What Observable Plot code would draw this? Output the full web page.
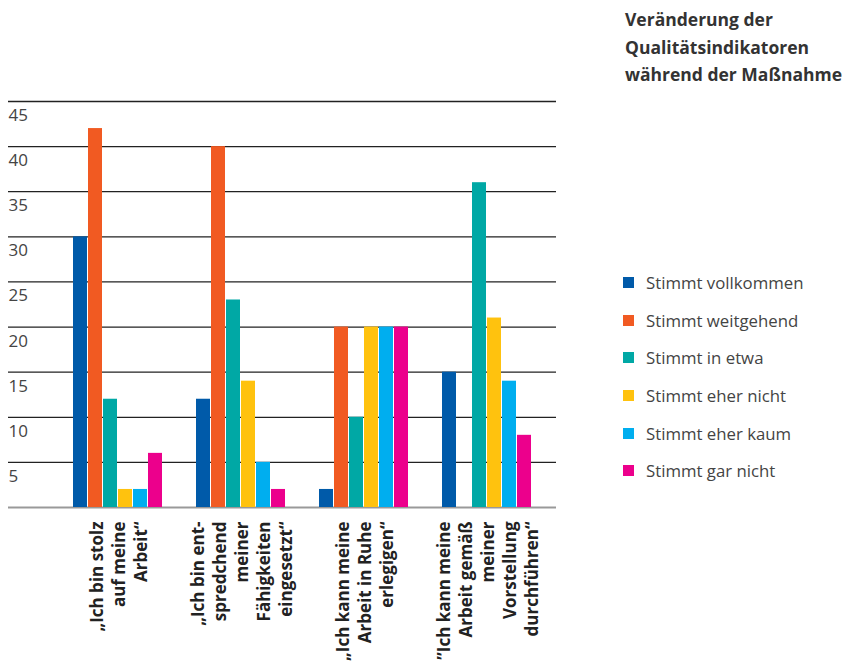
<!DOCTYPE html>
<html><head><meta charset="utf-8">
<script src="https://cdn.jsdelivr.net/npm/d3@7"></script>
<script src="https://cdn.jsdelivr.net/npm/@observablehq/plot@0.6"></script>
<style>
body{margin:0;background:#fff;font-family:"Open Sans",sans-serif;}
#wrap{position:relative;width:845px;height:672px;overflow:hidden;}
#grid,#chart{position:absolute;left:0;top:0;}
#title{position:absolute;left:625px;top:6px;font-weight:bold;font-size:17.5px;line-height:27.5px;color:#333;white-space:nowrap;}
#legend{position:absolute;left:623px;top:264px;}
.item{display:flex;align-items:center;height:37.6px;font-size:16.8px;color:#444;white-space:nowrap;}
.sw{width:11px;height:11px;margin-right:12px;flex:none;}
</style>
</head><body>
<div id="wrap">
  <div id="grid"></div>
  <div id="chart"></div>
  <div id="title">Veränderung der<br>Qualitätsindikatoren<br>während der Maßnahme</div>
  <div id="legend"></div>
</div>
<script>
const groupLabels = [
  "„Ich bin stolz\nauf meine\nArbeit“",
  "„Ich bin ent-\nspredchend\nmeiner\nFähigkeiten\neingesetzt“",
  "„Ich kann meine\nArbeit in Ruhe\nerlegigen“",
  "”Ich kann meine\nArbeit gemäß\nmeiner\nVorstellung\ndurchführen“"
];
const series = ["Stimmt vollkommen","Stimmt weitgehend","Stimmt in etwa","Stimmt eher nicht","Stimmt eher kaum","Stimmt gar nicht"];
const colors = ["#005aa9","#f15a22","#00a8a5","#ffc20e","#00aeef","#ec008c"];
const vollkommen = [30, 12, 2, 15];
const weitgehend = [42, 40, 20, null];
const inEtwa     = [12, 23, 10, 36];
const eherNicht  = [2, 14, 20, 21];
const eherKaum   = [2, 5, 20, 14];
const garNicht   = [6, 2, 20, 8];
const yTicks = [5, 10, 15, 20, 25, 30, 35, 40, 45];

const seriesValues = [vollkommen, weitgehend, inEtwa, eherNicht, eherKaum, garNicht];
const data = [];
seriesValues.forEach((vals, si) => vals.forEach((v, gi) => {
  if (v != null) data.push({group: groupLabels[gi], series: series[si], value: v});
}));

const common = {
  width: 570, height: 672,
  marginLeft: 8, marginRight: 14, marginTop: 101, marginBottom: 165,
  style: {fontFamily: "Open Sans", overflow: "visible", background: "transparent"},
  y: {domain: [0, 45], axis: null}
};

// background: gridlines and y tick labels spanning the full frame
const grid = Plot.plot({
  ...common,
  marks: [
    Plot.ruleY(yTicks, {stroke: "#222", strokeWidth: 1.3}),
    Plot.text(yTicks, {y: d => d, text: d => String(d), frameAnchor: "left", textAnchor: "start", dy: 14, fontSize: 17, fill: "#444"}),
    Plot.ruleY([0], {stroke: "#999", strokeWidth: 2})
  ]
});
document.getElementById("grid").appendChild(grid);

// foreground: grouped bars faceted by statement
const chart = Plot.plot({
  ...common,
  fx: {domain: groupLabels, range: [48, 556], paddingInner: 0.264, paddingOuter: 0.195, axis: null},
  x: {domain: series, paddingInner: 0.1, paddingOuter: 0, axis: null},
  color: {domain: series, range: colors},
  marks: [
    Plot.barY(data, {fx: "group", x: "series", y: "value", fill: "series"}),
    Plot.text(groupLabels, {fx: d => d, text: d => d, frameAnchor: "bottom", rotate: -90, textAnchor: "end", lineAnchor: "middle", dy: 14, fontSize: 17, fontWeight: "bold", fill: "#222", lineHeight: 1.3})
  ]
});
document.getElementById("chart").appendChild(chart);

const legend = document.getElementById("legend");
series.forEach((l, i) => {
  const row = document.createElement("div");
  row.className = "item";
  const sw = document.createElement("span");
  sw.className = "sw";
  sw.style.background = colors[i];
  const tx = document.createElement("span");
  tx.textContent = l;
  row.appendChild(sw); row.appendChild(tx);
  legend.appendChild(row);
});
</script>
</body></html>
